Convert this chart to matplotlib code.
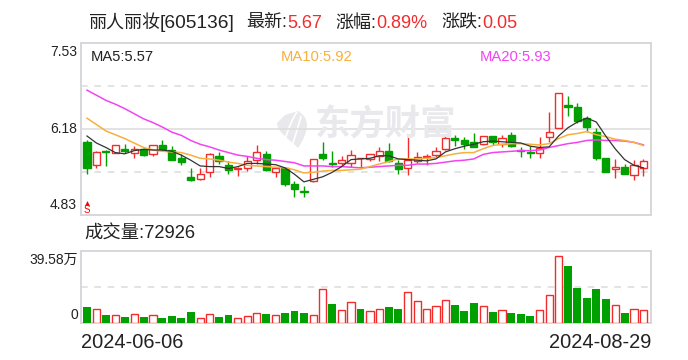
import matplotlib
matplotlib.use('Agg')
import matplotlib.pyplot as plt
from matplotlib.path import Path
from matplotlib.patches import PathPatch
from matplotlib.transforms import Affine2D

plt.rcParams['font.family'] = ['Liberation Sans', 'Noto Sans CJK SC']

# =========================
# DATA
# =========================
opens = [5.97, 5.61, 5.83, 5.81, 5.87, 5.81, 5.86, 5.79, 5.93, 5.85,
         5.72, 5.42, 5.40, 5.50, 5.75, 5.62, 5.55, 5.57, 5.69, 5.78,
         5.50, 5.57, 5.31, 5.20, 5.37, 5.79, 5.65, 5.65, 5.65, 5.72,
         5.71, 5.76, 5.83, 5.65, 5.56, 5.68, 5.74, 5.77, 5.87, 6.04,
         6.00, 5.98, 5.94, 6.07, 5.95, 6.08, 5.85, 5.82, 5.81, 6.06,
         6.19, 6.55, 6.52, 6.36, 6.14, 5.73, 5.55, 5.59, 5.46, 5.57]
closes = [5.57, 5.82, 5.82, 5.93, 5.83, 5.87, 5.77, 5.93, 5.86, 5.70,
          5.66, 5.38, 5.47, 5.78, 5.67, 5.53, 5.56, 5.68, 5.82, 5.53,
          5.56, 5.31, 5.24, 5.19, 5.71, 5.72, 5.63, 5.69, 5.77, 5.73,
          5.79, 5.84, 5.68, 5.55, 5.70, 5.74, 5.76, 5.84, 6.04, 6.01,
          5.94, 5.90, 6.07, 5.98, 6.04, 5.91, 5.83, 5.81, 5.88, 6.14,
          6.74, 6.52, 6.30, 6.21, 5.72, 5.51, 5.59, 5.48, 5.62, 5.67]
highs = [6.00, 5.84, 5.85, 5.93, 5.95, 5.91, 5.88, 5.93, 6.00, 5.91,
         5.79, 5.56, 5.56, 5.80, 5.82, 5.68, 5.59, 5.75, 5.93, 5.83,
         5.58, 5.59, 5.37, 5.28, 5.71, 5.97, 5.83, 5.75, 5.85, 5.73,
         5.79, 5.89, 5.96, 5.70, 6.09, 5.82, 5.78, 5.89, 6.07, 6.08,
         6.06, 6.11, 6.07, 6.07, 6.08, 6.14, 5.89, 5.92, 6.05, 6.45,
         6.74, 6.70, 6.59, 6.39, 6.20, 5.73, 5.71, 5.63, 5.69, 5.71]
lows = [5.48, 5.56, 5.60, 5.81, 5.81, 5.72, 5.75, 5.76, 5.84, 5.69,
        5.61, 5.37, 5.38, 5.42, 5.63, 5.47, 5.44, 5.52, 5.63, 5.52,
        5.42, 5.29, 5.11, 5.11, 5.35, 5.70, 5.59, 5.61, 5.58, 5.57,
        5.68, 5.68, 5.66, 5.48, 5.46, 5.65, 5.61, 5.73, 5.85, 5.92,
        5.87, 5.89, 5.93, 5.93, 5.89, 5.90, 5.74, 5.72, 5.73, 5.98,
        6.19, 6.39, 6.27, 6.14, 5.69, 5.51, 5.41, 5.48, 5.38, 5.45]

ma5 = [6.07, 5.96, 5.89, 5.81, 5.79, 5.84, 5.86, 5.85, 5.85, 5.83,
       5.77, 5.69, 5.60, 5.59, 5.59, 5.56, 5.59, 5.64, 5.64, 5.63,
       5.62, 5.57, 5.47, 5.35, 5.39, 5.43, 5.50, 5.59, 5.70, 5.71,
       5.72, 5.76, 5.76, 5.71, 5.70, 5.69, 5.68, 5.71, 5.82, 5.87,
       5.91, 5.94, 5.98, 5.99, 5.98, 5.97, 5.96, 5.91, 5.89, 5.90,
       6.07, 6.20, 6.29, 6.35, 6.29, 6.07, 5.87, 5.70, 5.61, 5.57]
ma10 = [6.35, 6.25, 6.15, 6.09, 6.03, 5.96, 5.89, 5.85, 5.83, 5.82,
        5.81, 5.77, 5.72, 5.71, 5.69, 5.66, 5.64, 5.61, 5.60, 5.59,
        5.58, 5.57, 5.54, 5.49, 5.50, 5.52, 5.53, 5.53, 5.54, 5.55,
        5.59, 5.63, 5.67, 5.71, 5.71, 5.71, 5.72, 5.73, 5.76, 5.79,
        5.81, 5.81, 5.87, 5.92, 5.94, 5.95, 5.95, 5.94, 5.93, 5.95,
        6.03, 6.09, 6.11, 6.14, 6.09, 6.06, 6.02, 6.00, 5.97, 5.92]
ma20 = [6.79, 6.71, 6.63, 6.57, 6.50, 6.42, 6.34, 6.28, 6.21, 6.13,
        6.08, 6.00, 5.94, 5.90, 5.85, 5.81, 5.77, 5.75, 5.72, 5.70,
        5.69, 5.67, 5.65, 5.60, 5.60, 5.60, 5.59, 5.59, 5.58, 5.57,
        5.58, 5.59, 5.60, 5.61, 5.61, 5.63, 5.63, 5.64, 5.66, 5.68,
        5.69, 5.71, 5.78, 5.81, 5.82, 5.83, 5.84, 5.84, 5.85, 5.89,
        5.92, 5.95, 5.97, 6.00, 6.01, 6.00, 6.00, 5.99, 5.97, 5.93]

# volume in 万手, r = red (hollow) bar, g = green bar
volumes = [8.88, 7.58, 4.44, 4.25, 3.33, 4.81, 3.33, 4.25, 2.77, 3.88,
           2.77, 6.10, 2.59, 4.81, 3.33, 4.44, 2.59, 3.70, 5.36, 4.99,
           4.25, 5.55, 6.66, 5.55, 4.25, 18.68, 10.54, 7.03, 11.47, 7.77,
           6.47, 7.58, 8.88, 7.77, 17.01, 12.02, 7.58, 9.25, 12.58, 9.99,
           6.66, 11.10, 9.25, 6.10, 7.03, 5.55, 4.99, 3.88, 7.03, 15.35,
           36.99, 31.07, 19.42, 13.87, 18.86, 13.32, 9.80, 5.55, 7.58, 7.29]
vol_colors = 'grgrgrgrgggg' 'rrggrrrgrggg' 'rrgrrg' 'rrggrrrrrggg' 'rgrgggrrr' 'ggggg' 'rgrr'

price_ticks = [7.53, 6.18, 4.83]
vol_top = 39.58

RED = '#f22c2c'
GREEN = '#00a000'
FRAME = '#d6d6dc'
GRID = '#dedede'

# =========================
# AXES
# =========================
W, H = 688, 360
fig = plt.figure(figsize=(W / 100, H / 100), dpi=100)
ax = fig.add_axes([81 / W, 1 - 215 / H, 570 / W, 172 / H])
ax2 = fig.add_axes([81 / W, 1 - 323 / H, 570 / W, 72 / H])
px = Affine2D().scale(1 / W, -1 / H).translate(0, 1) + fig.transFigure

x = list(range(len(closes)))
xlim = (-0.636, 59.8)

for a in (ax, ax2):
    a.set_xlim(xlim)
    a.set_xticks([])
    a.set_yticks([])
    for s in a.spines.values():
        s.set_color(FRAME)
        s.set_linewidth(1.4)

ax.set_ylim(price_ticks[2], price_ticks[0])
ax2.set_ylim(0, vol_top)

ax.axhline(price_ticks[1], color=GRID, lw=1.2, zorder=1)
ax.axhline((price_ticks[0] + price_ticks[1]) / 2, color=GRID, lw=1.2, ls=(0, (4, 4)), zorder=1)
ax.axhline((price_ticks[2] + price_ticks[1]) / 2, color=GRID, lw=1.2, ls=(0, (4, 4)), zorder=1)
ax2.axhline(vol_top / 2, color=GRID, lw=1.2, ls=(0, (4, 4)), zorder=1)

# =========================
# WATERMARK
# =========================
fig.text(386 / W, 1 - 125 / H, '东方财富', fontsize=25.5, fontweight='bold',
         color='#e9e9ed', ha='center', va='center', zorder=0.5)
leaf = Path([(298, 111), (310, 118), (310, 130), (298, 148),
             (290, 140), (277, 132), (277, 123),
             (285, 115), (298, 111)],
            [Path.MOVETO, Path.CURVE4, Path.CURVE4, Path.CURVE4,
             Path.CURVE4, Path.CURVE4, Path.CURVE4,
             Path.LINETO, Path.LINETO])
ax.add_patch(PathPatch(leaf, transform=px, fc='#e9e9ed', ec='none', zorder=0.5, clip_on=False))
for p in ([(297, 112), (290, 122), (285, 140)], [(301, 116), (298, 128), (292, 146)]):
    stripe = Path(p, [Path.MOVETO, Path.CURVE3, Path.CURVE3])
    ax.add_patch(PathPatch(stripe, transform=px, fc='none', ec='white', lw=1.2, zorder=0.6, clip_on=False))

# =========================
# CANDLES
# =========================
for i in x:
    up = closes[i] >= opens[i]
    col = RED if up else GREEN
    ax.vlines(i, lows[i], highs[i], color=col, lw=1.0, zorder=2)
    ax.bar(i, abs(closes[i] - opens[i]), bottom=min(opens[i], closes[i]), width=0.76,
           facecolor='white' if up else GREEN, edgecolor=col, lw=1.0, zorder=3)

ax.plot(x, ma20, color='#f244f2', lw=1.1, zorder=4)
ax.plot(x, ma10, color='#f7b03c', lw=1.1, zorder=5)
ax.plot(x, ma5, color='#333333', lw=0.9, zorder=6)

# =========================
# VOLUME
# =========================
for i, v in enumerate(volumes):
    if vol_colors[i] == 'r':
        ax2.bar(i, v, width=0.76, facecolor='white', edgecolor=RED, lw=1.0, zorder=3)
    else:
        ax2.bar(i, v, width=0.84, facecolor=GREEN, edgecolor='none', zorder=3)

# =========================
# S MARK
# =========================
ax.plot([0], [0.07], marker='^', ms=3.5, color='red', mec='none',
        transform=ax.get_xaxis_transform(), clip_on=False)
ax.text(0, 0.03, 'S', color='red', fontsize=7, ha='center', va='center',
        transform=ax.get_xaxis_transform())

# =========================
# TEXT
# =========================
def label(x_px, y_px, s, color='#222222', size=13, ha='left'):
    fig.text(x_px / W, 1 - y_px / H, s, color=color, fontsize=size, ha=ha, va='center')

label(88, 23, '丽人丽妆')
label(160, 23, '[605136]', size=13.8)
label(246, 23, '最新:')
label(287, 23, '5.67', RED)
label(335, 23, '涨幅:')
label(376, 23, '0.89%', RED)
label(441, 23, '涨跌:')
label(482, 23, '0.05', RED)

label(91, 57, f'MA5:{ma5[-1]:.2f}', size=10.6)
label(281, 57, f'MA10:{ma10[-1]:.2f}', '#f7b03c', size=10.6)
label(480, 57, f'MA20:{ma20[-1]:.2f}', '#f244f2', size=10.6)

label(77, 52, f'{price_ticks[0]:.2f}', size=10, ha='right')
label(77, 129, f'{price_ticks[1]:.2f}', size=10, ha='right')
label(77, 205, f'{price_ticks[2]:.2f}', size=10, ha='right')
label(78, 260, f'{vol_top:.2f}万', size=10, ha='right')
label(78, 315, '0', size=10, ha='right')

label(84, 234, '成交量:72926', size=13.2)
label(81, 342.5, '2024-06-06', size=14.4)
label(651, 342.5, '2024-08-29', size=14.4, ha='right')

plt.savefig('out.png', dpi=100)
plt.close()
